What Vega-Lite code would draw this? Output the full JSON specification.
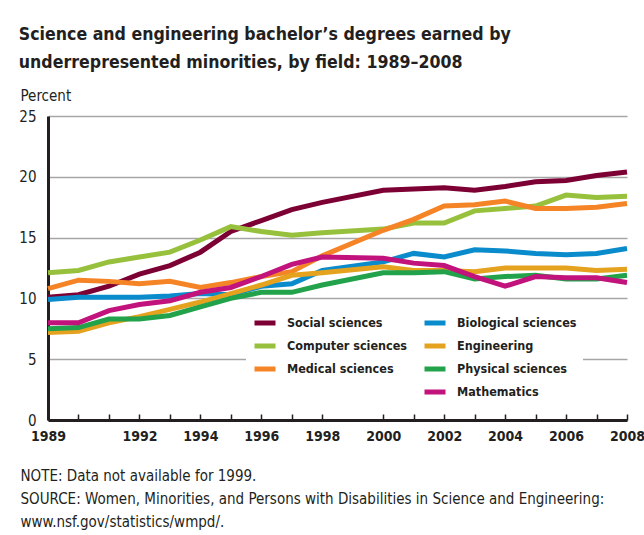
{
  "$schema": "https://vega.github.io/schema/vega-lite/v6.json",
  "autosize": {"type": "none"},
  "width": 579,
  "height": 304,
  "padding": {"left": 48, "top": 116, "right": 17, "bottom": 115},
  "background": "white",
  "title": {
    "text": ["Science and engineering bachelor’s degrees earned by", "underrepresented minorities, by field: 1989–2008"],
    "anchor": "start",
    "dx": 0,
    "offset": 16,
    "font": "'DejaVu Sans Condensed', 'Liberation Sans', sans-serif",
    "fontSize": 17.6,
    "fontWeight": "bold",
    "lineHeight": 28,
    "color": "#231f20"
  },
  "data": {"values": [
    {"year": 1989, "field": "Social sciences", "value": 10.1},
    {"year": 1990, "field": "Social sciences", "value": 10.3},
    {"year": 1991, "field": "Social sciences", "value": 11.0},
    {"year": 1992, "field": "Social sciences", "value": 12.0},
    {"year": 1993, "field": "Social sciences", "value": 12.7},
    {"year": 1994, "field": "Social sciences", "value": 13.8},
    {"year": 1995, "field": "Social sciences", "value": 15.5},
    {"year": 1996, "field": "Social sciences", "value": 16.4},
    {"year": 1997, "field": "Social sciences", "value": 17.3},
    {"year": 1998, "field": "Social sciences", "value": 17.9},
    {"year": 2000, "field": "Social sciences", "value": 18.9},
    {"year": 2001, "field": "Social sciences", "value": 19.0},
    {"year": 2002, "field": "Social sciences", "value": 19.1},
    {"year": 2003, "field": "Social sciences", "value": 18.9},
    {"year": 2004, "field": "Social sciences", "value": 19.2},
    {"year": 2005, "field": "Social sciences", "value": 19.6},
    {"year": 2006, "field": "Social sciences", "value": 19.7},
    {"year": 2007, "field": "Social sciences", "value": 20.1},
    {"year": 2008, "field": "Social sciences", "value": 20.4},
    {"year": 1989, "field": "Computer sciences", "value": 12.1},
    {"year": 1990, "field": "Computer sciences", "value": 12.3},
    {"year": 1991, "field": "Computer sciences", "value": 13.0},
    {"year": 1992, "field": "Computer sciences", "value": 13.4},
    {"year": 1993, "field": "Computer sciences", "value": 13.8},
    {"year": 1994, "field": "Computer sciences", "value": 14.8},
    {"year": 1995, "field": "Computer sciences", "value": 15.9},
    {"year": 1996, "field": "Computer sciences", "value": 15.5},
    {"year": 1997, "field": "Computer sciences", "value": 15.2},
    {"year": 1998, "field": "Computer sciences", "value": 15.4},
    {"year": 2000, "field": "Computer sciences", "value": 15.7},
    {"year": 2001, "field": "Computer sciences", "value": 16.2},
    {"year": 2002, "field": "Computer sciences", "value": 16.2},
    {"year": 2003, "field": "Computer sciences", "value": 17.2},
    {"year": 2004, "field": "Computer sciences", "value": 17.4},
    {"year": 2005, "field": "Computer sciences", "value": 17.6},
    {"year": 2006, "field": "Computer sciences", "value": 18.5},
    {"year": 2007, "field": "Computer sciences", "value": 18.3},
    {"year": 2008, "field": "Computer sciences", "value": 18.4},
    {"year": 1989, "field": "Medical sciences", "value": 10.8},
    {"year": 1990, "field": "Medical sciences", "value": 11.5},
    {"year": 1991, "field": "Medical sciences", "value": 11.4},
    {"year": 1992, "field": "Medical sciences", "value": 11.2},
    {"year": 1993, "field": "Medical sciences", "value": 11.4},
    {"year": 1994, "field": "Medical sciences", "value": 10.9},
    {"year": 1995, "field": "Medical sciences", "value": 11.3},
    {"year": 1996, "field": "Medical sciences", "value": 11.8},
    {"year": 1997, "field": "Medical sciences", "value": 12.2},
    {"year": 1998, "field": "Medical sciences", "value": 13.5},
    {"year": 2000, "field": "Medical sciences", "value": 15.6},
    {"year": 2001, "field": "Medical sciences", "value": 16.5},
    {"year": 2002, "field": "Medical sciences", "value": 17.6},
    {"year": 2003, "field": "Medical sciences", "value": 17.7},
    {"year": 2004, "field": "Medical sciences", "value": 18.0},
    {"year": 2005, "field": "Medical sciences", "value": 17.4},
    {"year": 2006, "field": "Medical sciences", "value": 17.4},
    {"year": 2007, "field": "Medical sciences", "value": 17.5},
    {"year": 2008, "field": "Medical sciences", "value": 17.8},
    {"year": 1989, "field": "Biological sciences", "value": 9.9},
    {"year": 1990, "field": "Biological sciences", "value": 10.1},
    {"year": 1991, "field": "Biological sciences", "value": 10.1},
    {"year": 1992, "field": "Biological sciences", "value": 10.1},
    {"year": 1993, "field": "Biological sciences", "value": 10.2},
    {"year": 1994, "field": "Biological sciences", "value": 10.4},
    {"year": 1995, "field": "Biological sciences", "value": 10.3},
    {"year": 1996, "field": "Biological sciences", "value": 11.0},
    {"year": 1997, "field": "Biological sciences", "value": 11.2},
    {"year": 1998, "field": "Biological sciences", "value": 12.3},
    {"year": 2000, "field": "Biological sciences", "value": 13.0},
    {"year": 2001, "field": "Biological sciences", "value": 13.7},
    {"year": 2002, "field": "Biological sciences", "value": 13.4},
    {"year": 2003, "field": "Biological sciences", "value": 14.0},
    {"year": 2004, "field": "Biological sciences", "value": 13.9},
    {"year": 2005, "field": "Biological sciences", "value": 13.7},
    {"year": 2006, "field": "Biological sciences", "value": 13.6},
    {"year": 2007, "field": "Biological sciences", "value": 13.7},
    {"year": 2008, "field": "Biological sciences", "value": 14.1},
    {"year": 1989, "field": "Engineering", "value": 7.2},
    {"year": 1990, "field": "Engineering", "value": 7.3},
    {"year": 1991, "field": "Engineering", "value": 8.0},
    {"year": 1992, "field": "Engineering", "value": 8.5},
    {"year": 1993, "field": "Engineering", "value": 9.1},
    {"year": 1994, "field": "Engineering", "value": 9.7},
    {"year": 1995, "field": "Engineering", "value": 10.4},
    {"year": 1996, "field": "Engineering", "value": 11.1},
    {"year": 1997, "field": "Engineering", "value": 11.9},
    {"year": 1998, "field": "Engineering", "value": 12.1},
    {"year": 2000, "field": "Engineering", "value": 12.6},
    {"year": 2001, "field": "Engineering", "value": 12.3},
    {"year": 2002, "field": "Engineering", "value": 12.3},
    {"year": 2003, "field": "Engineering", "value": 12.2},
    {"year": 2004, "field": "Engineering", "value": 12.5},
    {"year": 2005, "field": "Engineering", "value": 12.5},
    {"year": 2006, "field": "Engineering", "value": 12.5},
    {"year": 2007, "field": "Engineering", "value": 12.3},
    {"year": 2008, "field": "Engineering", "value": 12.4},
    {"year": 1989, "field": "Physical sciences", "value": 7.5},
    {"year": 1990, "field": "Physical sciences", "value": 7.6},
    {"year": 1991, "field": "Physical sciences", "value": 8.3},
    {"year": 1992, "field": "Physical sciences", "value": 8.3},
    {"year": 1993, "field": "Physical sciences", "value": 8.6},
    {"year": 1994, "field": "Physical sciences", "value": 9.3},
    {"year": 1995, "field": "Physical sciences", "value": 10.0},
    {"year": 1996, "field": "Physical sciences", "value": 10.5},
    {"year": 1997, "field": "Physical sciences", "value": 10.5},
    {"year": 1998, "field": "Physical sciences", "value": 11.1},
    {"year": 2000, "field": "Physical sciences", "value": 12.1},
    {"year": 2001, "field": "Physical sciences", "value": 12.1},
    {"year": 2002, "field": "Physical sciences", "value": 12.2},
    {"year": 2003, "field": "Physical sciences", "value": 11.6},
    {"year": 2004, "field": "Physical sciences", "value": 11.8},
    {"year": 2005, "field": "Physical sciences", "value": 11.9},
    {"year": 2006, "field": "Physical sciences", "value": 11.6},
    {"year": 2007, "field": "Physical sciences", "value": 11.6},
    {"year": 2008, "field": "Physical sciences", "value": 11.9},
    {"year": 1989, "field": "Mathematics", "value": 8.0},
    {"year": 1990, "field": "Mathematics", "value": 8.0},
    {"year": 1991, "field": "Mathematics", "value": 9.0},
    {"year": 1992, "field": "Mathematics", "value": 9.5},
    {"year": 1993, "field": "Mathematics", "value": 9.8},
    {"year": 1994, "field": "Mathematics", "value": 10.5},
    {"year": 1995, "field": "Mathematics", "value": 10.9},
    {"year": 1996, "field": "Mathematics", "value": 11.8},
    {"year": 1997, "field": "Mathematics", "value": 12.8},
    {"year": 1998, "field": "Mathematics", "value": 13.4},
    {"year": 2000, "field": "Mathematics", "value": 13.3},
    {"year": 2001, "field": "Mathematics", "value": 12.9},
    {"year": 2002, "field": "Mathematics", "value": 12.7},
    {"year": 2003, "field": "Mathematics", "value": 11.8},
    {"year": 2004, "field": "Mathematics", "value": 11.0},
    {"year": 2005, "field": "Mathematics", "value": 11.8},
    {"year": 2006, "field": "Mathematics", "value": 11.7},
    {"year": 2007, "field": "Mathematics", "value": 11.7},
    {"year": 2008, "field": "Mathematics", "value": 11.3}
  ]},
  "mark": {"type": "line", "strokeWidth": 5, "strokeJoin": "miter", "strokeCap": "butt"},
  "encoding": {
    "x": {
      "field": "year",
      "type": "quantitative",
      "scale": {"domain": [1989, 2008], "nice": false, "zero": false},
      "axis": {
        "values": [1989, 1990, 1991, 1992, 1993, 1994, 1995, 1996, 1997, 1998, 2000, 2001, 2002, 2003, 2004, 2005, 2006, 2007, 2008],
        "labelExpr": "indexof([1989,1992,1994,1996,1998,2000,2002,2004,2006,2008], datum.value) >= 0 ? datum.value + '' : ''",
        "grid": false,
        "domainColor": "#231f20",
        "domainWidth": 3,
        "tickColor": "#231f20",
        "tickWidth": 1.5,
        "tickSize": -6,
        "labelPadding": 15,
        "labelFont": "'DejaVu Sans Condensed', 'Liberation Sans', sans-serif",
        "labelFontSize": 14,
        "labelFontWeight": "bold",
        "labelColor": "#231f20",
        "labelFlush": false,
        "labelOverlap": false,
        "title": ["NOTE:  Data not available for 1999.", "SOURCE:  Women, Minorities, and Persons with Disabilities in Science and Engineering:", "www.nsf.gov/statistics/wmpd/."],
        "titleAnchor": "start",
        "titleAlign": "left",
        "titleBaseline": "top",
        "titleX": -28,
        "titleY": 48,
        "titleLineHeight": 23,
        "titleFont": "'DejaVu Sans Condensed', 'Liberation Sans', sans-serif",
        "titleFontSize": 15,
        "titleFontWeight": "normal",
        "titleColor": "#231f20"
      }
    },
    "y": {
      "field": "value",
      "type": "quantitative",
      "scale": {"domain": [0, 25], "nice": false},
      "axis": {
        "values": [0, 5, 10, 15, 20, 25],
        "grid": true,
        "gridColor": "#a6a6a6",
        "gridWidth": 1.5,
        "ticks": false,
        "domainColor": "#231f20",
        "domainWidth": 3,
        "labelPadding": 12,
        "labelFont": "'DejaVu Sans Condensed', 'Liberation Sans', sans-serif",
        "labelFontSize": 15,
        "labelColor": "#231f20",
        "title": "Percent",
        "titleAngle": 0,
        "titleAlign": "left",
        "titleBaseline": "middle",
        "titleX": -28,
        "titleY": -21,
        "titleFont": "'DejaVu Sans Condensed', 'Liberation Sans', sans-serif",
        "titleFontSize": 15,
        "titleFontWeight": "normal",
        "titleColor": "#231f20"
      }
    },
    "color": {
      "field": "field",
      "type": "nominal",
      "scale": {
        "domain": ["Social sciences", "Computer sciences", "Medical sciences", " ", "Biological sciences", "Engineering", "Physical sciences", "Mathematics"],
        "range": ["#7d0034", "#97c13c", "#f58426", "rgba(255,255,255,0)", "#0a8bcb", "#e5a21f", "#22a24b", "#c2127b"]
      },
      "legend": {
        "title": null,
        "orient": "none",
        "legendX": 198,
        "legendY": 188,
        "columns": 2,
        "columnPadding": 6,
        "rowPadding": 0,
        "padding": 6,
        "fillColor": "white",
        "symbolType": "stroke",
        "symbolSize": 441,
        "symbolStrokeWidth": 5,
        "labelOffset": 9,
        "labelFont": "'DejaVu Sans Condensed', 'Liberation Sans', sans-serif",
        "labelFontSize": 12.5,
        "labelFontWeight": "bold",
        "labelColor": "#231f20",
        "labelLimit": 200
      }
    }
  },
  "config": {"view": {"stroke": null}}
}
